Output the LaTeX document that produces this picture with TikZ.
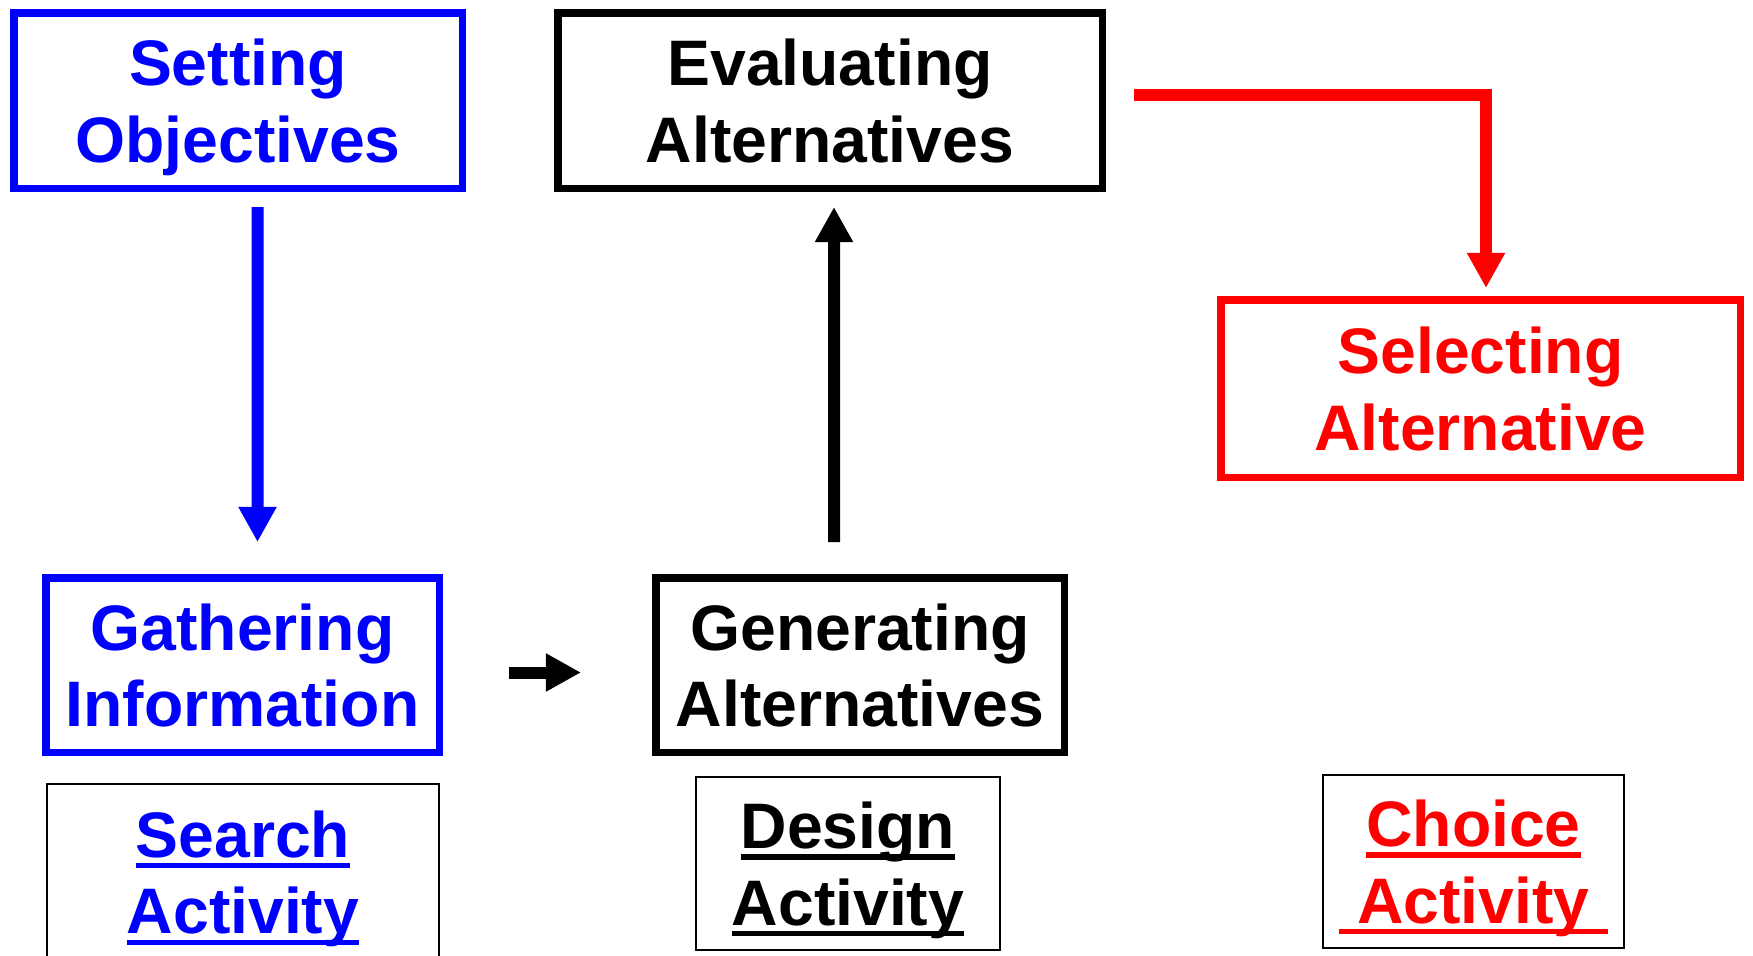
\documentclass[tikz,border=0pt]{standalone}
\usepackage{fontspec}
\setmainfont{Liberation Sans}
\usepackage{xcolor}
\usepackage{tikz}
\usetikzlibrary{arrows.meta}
\newcommand\stagefont{\bfseries\fontsize{18.3}{21.8}\selectfont}
\newcommand{\actul}[1]{\setbox0\hbox{#1}\leavevmode\rlap{\rule[-3.2pt]{\wd0}{1.5pt}}\box0}
\tikzset{%
  boxstage/.style={rectangle,line width=0.075cm,align=center,font=\stagefont,inner sep=0pt,text depth=0pt}
}
\tikzset{%
  boxact/.style={rectangle,draw=black,line width=0.022cm,align=center,font=\stagefont,inner sep=0pt,text depth=0pt}
}
\tikzset{%
  flowarrow/.style={line width=0.12cm,-{Triangle[length=10pt,width=10.2pt]}}
}
\begin{document}
\begin{tikzpicture}
            \useasboundingbox (0,0) rectangle (17.53,-9.55);
            % search
            \node[boxstage,draw=blue,text=blue,minimum width=4.485cm,minimum height=1.755cm](setobj) at (2.38,-1.005){Setting\\Objectives};
            \node[boxstage,draw=blue,text=blue,minimum width=3.935cm,minimum height=1.745cm](gathinf) at (2.425,-6.65){Gathering\\Information};
            \node[boxact,text=blue,minimum width=3.92cm,minimum height=1.76cm](search) at (2.43,-8.72){\actul{Search}\\\actul{Activity}};
            % design
            \node[boxstage,draw=black,minimum width=5.445cm,minimum height=1.755cm](evalalt) at (8.30,-1.005){Evaluating\\Alternatives};
            \node[boxstage,draw=black,minimum width=4.085cm,minimum height=1.745cm](genalt) at (8.60,-6.65){Generating\\Alternatives};
            \node[boxact,minimum width=3.04cm,minimum height=1.73cm](design) at (8.48,-8.635){\actul{Design}\\\actul{Activity}};
            % choice
            \node[boxstage,draw=red,text=red,minimum width=5.195cm,minimum height=1.775cm](selalt) at (14.805,-3.885){Selecting\\Alternative};
            \node[boxact,text=red,minimum width=3.01cm,minimum height=1.73cm](choice) at (14.735,-8.615){\actul{Choice}\\\actul{\ Activity\ }};

            \draw[flowarrow,blue] ([xshift=0.195cm,yshift=-0.15cm]setobj.south) -- ([xshift=0.15cm,yshift=0.32cm]gathinf.north);
            \draw[flowarrow] ([xshift=0.66cm,yshift=-0.075cm]gathinf.east) -- ([xshift=-0.71cm,yshift=-0.075cm]genalt.west);
            \draw[flowarrow] ([xshift=-0.26cm,yshift=0.32cm]genalt.north) -- ([xshift=0.04cm,yshift=-0.15cm]evalalt.south);
            \draw[flowarrow,red] ([xshift=0.28cm,yshift=0.055cm]evalalt.east) -| ([xshift=0.055cm,yshift=0.08cm]selalt.north);
        \end{tikzpicture}
\end{document}
